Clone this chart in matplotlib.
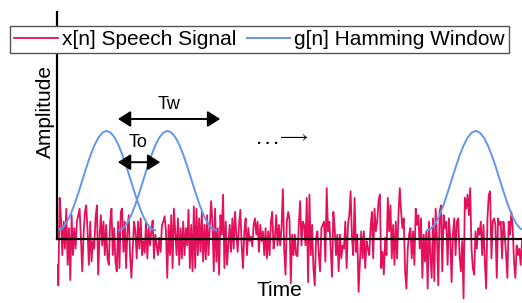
import numpy as np
import matplotlib
matplotlib.use("Agg")
import matplotlib.pyplot as plt

plt.rcParams['font.family'] = ['Liberation Sans', 'DejaVu Sans']

# speech signal samples (amplitude units)
speech_part1 = [-0.24, -0.43, 0.38, 0.19, -0.15, 0.16, -0.09, 0.28, -0.24, 0.10,
                -0.38, 0.22, -0.15, 0.10, -0.09, 0.16, 0.22, 0.28, 0.01, -0.30,
                0.04, 0.25, 0.31, 0.07, -0.24, 0.16, -0.21, -0.02, -0.09, 0.19,
                0.31, -0.33, 0.01, 0.22, -0.06, 0.16, -0.15, 0.13, -0.18, -0.24,
                0.16, 0.28, -0.15, 0.10, -0.21, -0.30, 0.16, -0.27, 0.25, 0.28,
                -0.12, 0.16, -0.27, 0.07, 0.22, -0.15, -0.36, -0.09]
speech_part2 = [0.16, 0.07, -0.18, 0.16, -0.09, 0.19, -0.15, -0.02, -0.13, 0.16,
                -0.18, 0.10, -0.06, 0.07, 0.17, -0.18, 0.04, -0.06, -0.15, 0.01,
                -0.12, 0.13, 0.16, 0.21, 0.07, -0.36, 0.13, -0.15, 0.22, -0.27,
                0.28, 0.07, -0.15, 0.19, -0.24, 0.10, -0.18, 0.16, -0.15, 0.10,
                -0.06, 0.27, -0.27, 0.13, -0.30, 0.30, -0.27, 0.28, -0.15, 0.19,
                -0.12, 0.25, -0.21, 0.13, -0.19, 0.22, -0.15, 0.10]
speech_part3 = [0.35, 0.16, -0.30, 0.28, -0.21, 0.10, -0.33, 0.22, 0.04, 0.41,
                -0.27, 0.16, -0.24, -0.06, 0.13, -0.12, 0.19, -0.09, 0.25, 0.04,
                -0.12, 0.13, 0.27, -0.06, -0.27, 0.07, 0.19, -0.15, 0.10, -0.02,
                0.02, -0.07, 0.13, 0.19, 0.04, 0.16, -0.12, 0.13, -0.02, 0.07,
                -0.15, 0.10, -0.18, 0.07, -0.15, 0.16, 0.25, -0.09, 0.01, 0.22,
                -0.06, 0.13, -0.06, 0.10, 0.46, -0.09, -0.33, 0.16, 0.25]
speech_part4 = [0.18, -0.41, 0.04, -0.15, 0.04, -0.15, -0.16, 0.13, 0.35, -0.06,
                0.16, 0.13, -0.06, 0.38, -0.40, 0.41, -0.15, 0.13, -0.27, -0.43,
                0.01, 0.07, -0.13, -0.30, 0.10, 0.13, 0.16, -0.21, 0.47, 0.07,
                0.16, -0.09, -0.35, 0.25, 0.10, -0.15, 0.04, -0.30, 0.04, -0.18,
                -0.06, -0.09, 0.16, -0.27, 0.13, 0.22, 0.44, 0.01, -0.15, 0.38,
                -0.12, 0.04, -0.49, -0.21, 0.07, -0.18, 0.07, -0.27, -0.02]
speech_part5 = [-0.09, -0.15, 0.10, 0.25, -0.18, 0.28, 0.07, 0.16, 0.35, 0.41,
                -0.27, -0.12, -0.33, 0.01, -0.15, 0.38, 0.07, 0.31, -0.18, 0.13,
                -0.24, 0.16, -0.18, 0.22, 0.47, 0.25, 0.10, 0.19, -0.30, -0.46,
                -0.09, 0.04, 0.10, -0.18, 0.07, -0.24, 0.28, 0.13, 0.22, -0.09,
                0.19, -0.36, 0.04, -0.21, 0.07, -0.46, 0.16, -0.15, -0.36, 0.19,
                -0.39, 0.28, 0.01, -0.43, 0.25, 0.31, -0.30, 0.22, 0.10]
speech_part6 = [0.16, -0.24, 0.19, 0.01, -0.40, 0.04, 0.19, -0.15, 0.16, 0.19,
                -0.15, -0.30, -0.02, -0.55, 0.38, 0.28, 0.41, 0.22, 0.47, -0.09,
                -0.27, -0.33, 0.07, -0.09, 0.10, 0.04, 0.16, -0.15, 0.13, -0.21,
                -0.46, 0.19, 0.41, 0.44, -0.18, 0.16, 0.19, 0.13, -0.36, 0.19,
                0.13, 0.16, -0.18, 0.16, 0.04, -0.15, -0.36, 0.16, 0.04, 0.25,
                0.10, -0.21, -0.36, -0.06, -0.15, -0.09, -0.24, -0.02]

# one Hamming window, sampled (rising half, peak, falling half)
window_half = [0.08, 0.096, 0.142, 0.215, 0.31, 0.421, 0.54, 0.659, 0.77,
               0.865, 0.938, 0.984]
window_shape = window_half + [1.0] + window_half[::-1]

# window placement on a normalised time axis (0..1)
window_starts = [0.002, 0.133, 0.796]
window_length = 0.209

# annotation spans (normalised time)
tw_span = (0.131, 0.351)
to_span = (0.131, 0.222)

speech_color = '#E3115C'
window_color = '#6495ED'


def main():
    speech = np.array(speech_part1 + speech_part2 + speech_part3
                      + speech_part4 + speech_part5 + speech_part6)
    t = np.linspace(0, 1, len(speech))

    fig = plt.figure(figsize=(5.22, 3.03), dpi=100)
    ax = fig.add_axes([57 / 522, 0, 465 / 522, 291 / 303])

    ax.plot(t, speech, color=speech_color, lw=1.3, label='x[n] Speech Signal')

    shape = np.array(window_shape)
    for k, start in enumerate(window_starts):
        tw = start + np.linspace(0, window_length, len(shape))
        ax.plot(tw, shape, color=window_color, lw=1.4,
                label='g[n] Hamming Window' if k == 0 else None)

    ax.set_xlim(0, 1)
    ax.set_ylim(-0.593, 2.10)

    for side in ('top', 'right'):
        ax.spines[side].set_visible(False)
    ax.spines['bottom'].set_position(('data', 0))
    ax.spines['left'].set_bounds(0, 2.10)
    ax.spines['bottom'].set_linewidth(1.6)
    ax.spines['left'].set_linewidth(1.6)
    ax.set_xticks([])
    ax.set_yticks([])

    arrow = dict(arrowstyle='<|-|>,head_length=0.38,head_width=0.24',
                 color='black', lw=1.4, mutation_scale=20,
                 shrinkA=0, shrinkB=0)
    ax.annotate('', xy=(tw_span[1], 1.11), xytext=(tw_span[0], 1.11),
                arrowprops=arrow)
    ax.text(np.mean(tw_span), 1.24, 'Tw', ha='center', va='center',
            fontsize=13)
    ax.annotate('', xy=(to_span[1], 0.71), xytext=(to_span[0], 0.71),
                arrowprops=arrow)
    ax.text(0.174, 0.89, 'To', ha='center', va='center', fontsize=13)

    # "... ->" continuation mark
    ax.text(0.430, 0.88, '. . .', ha='left', va='baseline', fontsize=11,
            fontweight='bold')
    ax.text(0.472, 0.945, r'$\longrightarrow$', ha='left', va='center',
            fontsize=13, math_fontfamily='cm')

    fig.text(45 / 522, 1 - 111 / 303, 'Amplitude', rotation=90,
             ha='center', va='center', fontsize=15)
    fig.text(279 / 522, 1 - 291 / 303, 'Time', ha='center', va='center',
             fontsize=15)

    leg = fig.legend(loc='center', bbox_to_anchor=(259.5 / 522, 1 - 39.5 / 303),
                     ncol=2, fontsize=15, frameon=True, fancybox=False,
                     framealpha=1, edgecolor='#555555', handlelength=2.1,
                     handletextpad=0.2, columnspacing=0.5, borderpad=0.2,
                     borderaxespad=0)
    leg.get_frame().set_linewidth(1.0)

    fig.savefig('out.png', dpi=100)


if __name__ == '__main__':
    main()
